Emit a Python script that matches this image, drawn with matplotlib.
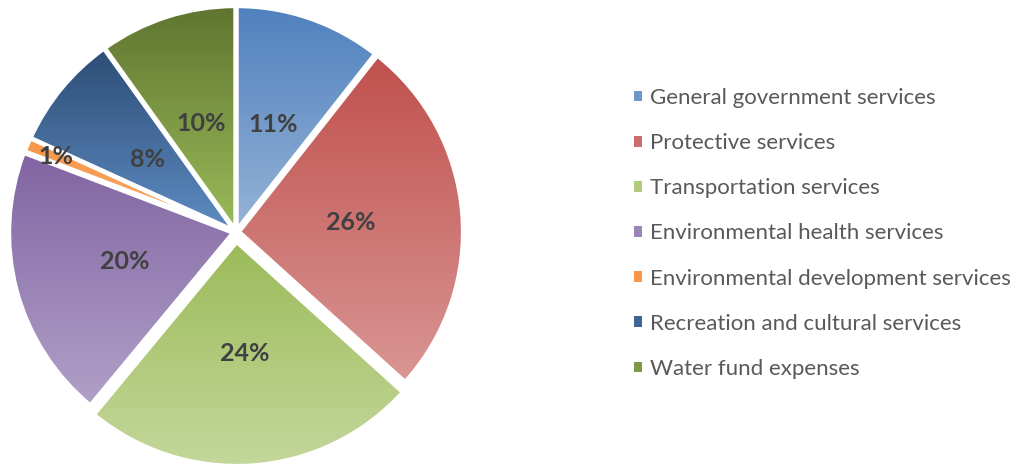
import numpy as np
import matplotlib.pyplot as plt
from matplotlib.colors import LinearSegmentedColormap
from matplotlib.patches import Patch

categories = [
    "General government services",
    "Protective services",
    "Transportation services",
    "Environmental health services",
    "Environmental development services",
    "Recreation and cultural services",
    "Water fund expenses",
]
shares = [10.6, 26.1, 24.3, 19.8, 1.0, 8.3, 9.9]

# gradient colours per slice: top -> bottom
top_colors = ["#4F81BD", "#C0504D", "#9BBB59", "#8064A2", "#F79646", "#2C4D75", "#5F7530"]
bottom_colors = ["#95B3D7", "#D99694", "#C4D79B", "#B1A0C7", "#F9A96A", "#5E8CC3", "#9BBB59"]
legend_colors = ["#6D96C9", "#CC6F6C", "#B1CB7C", "#9A84B6", "#F79646", "#3E6596", "#7D994A"]

plt.rcParams["font.family"] = ["Lato", "DejaVu Sans"]

fig = plt.figure(figsize=(10.16, 4.66), dpi=100)
ax = fig.add_axes([0, 0, 1, 1])

# axes in pixel units so the pie sits where it does in the picture
radius = 224
explode = [2, 3, 10, 3, 2, 2, 2]
wedges, texts, autotexts = ax.pie(
    shares,
    explode=explode,
    center=(236, 234),
    radius=radius,
    startangle=90,
    counterclock=False,
    autopct="%.0f%%",
    pctdistance=0.5,
    wedgeprops=dict(edgecolor="white", linewidth=3, zorder=3),
    textprops=dict(fontsize=18, fontweight="bold", color="#404040"),
)

grad = np.linspace(0, 1, 256).reshape(-1, 1)
for w, c0, c1 in zip(wedges, top_colors, bottom_colors):
    w.set_facecolor("none")
    bb = w.get_path().get_extents()
    cmap = LinearSegmentedColormap.from_list("g", [c0, c1])
    im = ax.imshow(grad, cmap=cmap, extent=(bb.x0, bb.x1, bb.y0, bb.y1),
                   origin="upper", aspect="auto", zorder=1, interpolation="bilinear")
    im.set_clip_path(w)

for t in autotexts:
    t.set_zorder(5)

# small slice label sits out near the rim
small = int(np.argmin(shares))
ang = np.deg2rad(90 - 360 * (sum(shares[:small]) + shares[small] / 2) / sum(shares))
cx, cy = wedges[small].center
autotexts[small].set_position((cx + 0.86 * radius * np.cos(ang), cy + 0.86 * radius * np.sin(ang)))

ax.set_xlim(0, 1016)
ax.set_ylim(0, 466)
ax.set_aspect("equal")
ax.axis("off")

handles = [Patch(facecolor=c, edgecolor="none") for c in legend_colors]
fig.legend(handles, categories, loc="center left", bbox_to_anchor=(634 / 1016, 0.499),
           frameon=False, fontsize=16, labelcolor="#595959",
           handlelength=0.36, handleheight=0.36, handletextpad=0.36,
           labelspacing=1.13, borderpad=0, borderaxespad=0)

fig.savefig("out.png", dpi=100)
